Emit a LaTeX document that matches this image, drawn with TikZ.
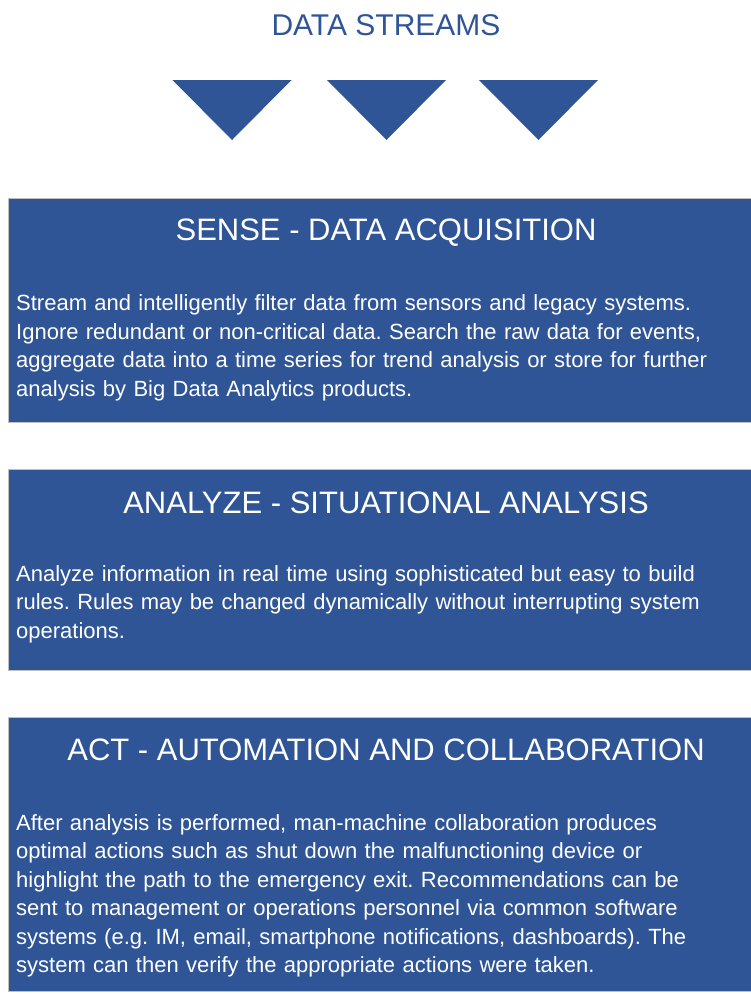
\documentclass[tikz,border=0pt]{standalone}
\usepackage{fontspec}
\setmainfont{Liberation Sans}
\definecolor{streamblue}{HTML}{2F5597}
\tikzset{
  phase/.style={fill=streamblue, draw=gray!50, line width=0.6pt},
  funnel/.style={fill=streamblue},
  phasetitle/.style={anchor=base, text=white, inner sep=0pt,
    font=\fontsize{31}{36}\selectfont},
  phasetext/.style={anchor=base west, text=white, inner sep=0pt,
    text width=745pt, align=left, font=\fontsize{22}{28.5}\selectfont},
}
\frenchspacing
\begin{document}
\begin{tikzpicture}[x=1pt,y=-1pt]
    \useasboundingbox (0,0) rectangle (751,994);

    \node[phasetitle, text=streamblue, font=\fontsize{30}{36}\selectfont] (streams) at (386,35) {DATA STREAMS};
    % the three incoming streams
    \foreach \cx in {232,386.5,538.5}{%
      \fill[funnel] (\cx-59.5,80) -- (\cx+59.5,80) -- (\cx,140) -- cycle;
    }

    % sense
    \draw[phase] (8,198) rectangle (752,422);
    \node[phasetitle] (senseT) at (386,240.5) {SENSE - DATA ACQUISITION};
    \node[phasetext] (senseB) at (16,310.5) {Stream and intelligently filter data from sensors and legacy systems.\\
      Ignore redundant or non-critical data. Search the raw data for events,\\
      aggregate data into a time series for trend analysis or store for further\\
      analysis by Big Data Analytics products.};

    % analyze
    \draw[phase] (8,469) rectangle (752,670);
    \node[phasetitle] (analyzeT) at (386,513) {ANALYZE - SITUATIONAL ANALYSIS};
    \node[phasetext] (analyzeB) at (16,581) {Analyze information in real time using sophisticated but easy to build\\
      rules. Rules may be changed dynamically without interrupting system\\
      operations.};

    % act
    \draw[phase] (8,717) rectangle (752,991);
    \node[phasetitle] (actT) at (386,760) {ACT - AUTOMATION AND COLLABORATION};
    \node[phasetext] (actB) at (16,830) {After analysis is performed, man-machine collaboration produces\\
      optimal actions such as shut down the malfunctioning device or\\
      highlight the path to the emergency exit. Recommendations can be\\
      sent to management or operations personnel via common software\\
      systems (e.g. IM, email, smartphone notifications, dashboards). The\\
      system can then verify the appropriate actions were taken.};
\end{tikzpicture}
\end{document}
